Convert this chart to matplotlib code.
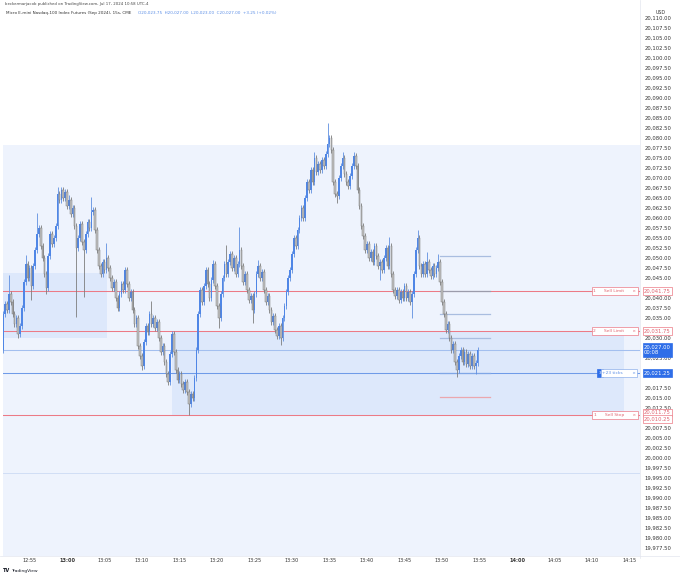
import matplotlib
matplotlib.use("Agg")
import matplotlib.pyplot as plt
import matplotlib.transforms as mtransforms
import numpy as np

# ---------------- data (15-second candles, index 0 = 12:55:00) ----------------
first_index = -14
first_open = 20027.0
closes = [
    20036, 20038.5, 20037, 20041, 20039, 20036, 20033.5, 20035, 20031, 20033,      # -14..-5
    20037.5, 20044, 20048.5, 20045, 20047.5, 20043, 20048, 20052, 20056, 20057.5,  # -4..5
    20053, 20050, 20046, 20042.5, 20050.5, 20056, 20053.5, 20055, 20058, 20066,    # 6..15
    20064.5, 20067, 20065, 20066.5, 20063, 20064.5, 20061, 20062.5, 20058, 20052.5,  # 16..25
    20055, 20058.5, 20054, 20052, 20056, 20059, 20057.5, 20061.5, 20062, 20057,    # 26..35
    20052, 20048, 20046, 20049, 20047, 20050, 20047.5, 20045, 20042.5, 20044,      # 36..45
    20040, 20037.5, 20041, 20043.5, 20042, 20047, 20043.5, 20040, 20041.5, 20037,  # 46..55
    20033.5, 20035, 20028, 20025.5, 20023, 20029, 20033, 20031.5, 20036, 20033.5,  # 56..65
    20035, 20032.5, 20034, 20030, 20026.5, 20028, 20024, 20021, 20019, 20026,      # 66..75
    20031, 20026.5, 20022, 20019.5, 20021, 20018.5, 20017, 20019, 20016.5, 20013.5,  # 76..85
    20016, 20015, 20020, 20027, 20036, 20042, 20039, 20043, 20047, 20043.5,        # 86..95
    20040, 20044.5, 20048.5, 20043, 20038, 20035, 20041, 20045, 20048.5, 20046,    # 96..105
    20049, 20051, 20047.5, 20050, 20046, 20048.5, 20052, 20048, 20044, 20046,      # 106..115
    20042, 20039.5, 20040.5, 20037, 20041, 20046, 20048, 20045, 20046.5, 20042,    # 116..125
    20039, 20040.5, 20037, 20034, 20035.5, 20032, 20030.5, 20033, 20030, 20035,    # 126..135
    20038, 20041.5, 20045, 20047, 20051, 20055, 20053, 20057, 20060, 20062.5,      # 136..145
    20060, 20065, 20069, 20067, 20072, 20069, 20075, 20071.5, 20073.5, 20072,      # 146..155
    20074.5, 20073, 20076, 20078.5, 20080, 20077, 20069, 20066, 20065.5, 20070,    # 156..165
    20073, 20075, 20071, 20069, 20068, 20070.5, 20073, 20075.5, 20073, 20067,      # 166..175
    20063, 20058, 20055.5, 20052, 20053.5, 20050, 20051.5, 20049, 20053, 20050.5,  # 176..185
    20048, 20049, 20047, 20050, 20052.5, 20048, 20053, 20046, 20042, 20040.5,      # 186..195
    20042, 20039.5, 20041.5, 20040, 20043, 20040, 20041.5, 20039, 20041, 20046,    # 196..205
    20052, 20055, 20048, 20046, 20048.5, 20046, 20049, 20047, 20045.5, 20048,      # 206..215
    20046, 20047.5, 20049, 20044, 20039, 20036, 20032, 20033.5, 20030, 20027,      # 216..225
    20028.5, 20024, 20022, 20025.5, 20027, 20024, 20026.5, 20023.5, 20026, 20023,  # 226..235
    20025.5, 20023, 20023.75, 20027,                                               # 236..239
]
wick_high = {-11: 20045.75, -2: 20050.75, 4: 20061.25, 15: 20067.75, 21: 20065.75,
             33: 20065.25, 41: 20053.75, 65: 20039.25, 98: 20049.5, 105: 20053.25,
             112: 20057.75, 122: 20049.5, 152: 20076.5, 159: 20083.75, 167: 20076.5,
             173: 20076.5, 192: 20055.25, 207: 20057.0, 212: 20051.5, 218: 20051.0}
wick_low = {-6: 20030.0, 1: 20039.5, 9: 20041.0, 25: 20035.25, 29: 20040.25,
            60: 20022.0, 85: 20010.75, 101: 20032.5, 119: 20033.75, 134: 20028.25,
            164: 20063.75, 187: 20044.5, 204: 20035.0, 228: 20020.25, 238: 20021.0}
wick_default = 0.75

time_labels = ["12:55", "13:00", "13:05", "13:10", "13:15", "13:20", "13:25", "13:30",
               "13:35", "13:40", "13:45", "13:50", "13:55", "14:00", "14:05", "14:10", "14:15"]
bold_labels = ["13:00", "14:00"]
candles_per_label = 20

zone_top = 20078.25                  # light shaded zone top
box1 = (-14.2, 41.3, 20030.0, 20046.25)   # x0, x1, y0, y1
box2 = (76.0, 317.0, 20010.75, 20031.5)

order_prices = [20041.75, 20031.75, 20021.25, 20010.75]
order_qty = ["1", "2", "3", "1"]
order_names = ["Sell Limit", "Sell Limit", "+23 ticks", "Sell Stop"]
last_price = 20027.0
last_price_text = "20,027.00\n00:08"
stop_axis_texts = ["20,011.75", "20,010.25"]
faint_line_price = 19996.25
short_lines_x = (218.9, 245.6)
short_lines = [(20050.6, "#a9bde0"), (20041.8, "#9c9cab"), (20036.0, "#a9bde0"),
               (20030.0, "#a9bde0"), (20021.25, "#7fa6e6"), (20015.3, "#eba7ae")]

# ---------------- figure ----------------
W, H = 680, 575
fig = plt.figure(figsize=(W / 100, H / 100), dpi=100)
fig.patch.set_facecolor("white")
ax = fig.add_axes([3 / W, 1 - 556 / H, 637 / W, 548 / H])
ax.set_facecolor("white")
xmin, xmax = (3 - 29.5) / 1.875, (640 - 29.5) / 1.875
ymin, ymax = 19975.5, 20112.5
ax.set_xlim(xmin, xmax)
ax.set_ylim(ymin, ymax)

# shaded zones
ax.fill_between([xmin, xmax], ymin, zone_top, color="#eef3fd", zorder=0, lw=0)
ax.fill_between([box1[0], box1[1]], box1[2], box1[3], color="#dde8fb", zorder=0.5, lw=0)
ax.fill_between([box2[0], box2[1]], box2[2], box2[3], color="#dde8fb", zorder=0.5, lw=0)

# horizontal lines
red = "#ec7a86"
blue = "#6f9be8"
for p, q in zip(order_prices, order_qty):
    col = blue if q == "3" else red
    ax.axhline(p, color=col, lw=0.75, zorder=1)
ax.axhline(last_price, color="#a3bfef", lw=0.75, zorder=1)
ax.axhline(faint_line_price, color="#ccdaf4", lw=0.6, zorder=1)
for p, c in short_lines:
    ax.plot(short_lines_x, [p, p], color=c, lw=0.9, zorder=1.5)

# candles
n = len(closes)
idx = np.arange(first_index, first_index + n)
opens = np.array([first_open] + closes[:-1], dtype=float)
cl = np.array(closes, dtype=float)
hi = np.maximum(opens, cl) + wick_default
lo = np.minimum(opens, cl) - wick_default
for k, v in wick_high.items():
    hi[k - first_index] = v
for k, v in wick_low.items():
    lo[k - first_index] = v
up = cl >= opens
up_c, dn_face, dn_edge = "#4f86e6", "#c2c2c2", "#7d7d7d"
ax.vlines(idx[up], lo[up], hi[up], color="#5f8fe0", lw=0.6, zorder=3)
ax.vlines(idx[~up], lo[~up], hi[~up], color=dn_edge, lw=0.6, zorder=3)
hgt = np.where(np.abs(cl - opens) < 0.25, 0.25, cl - opens)
ax.bar(idx[up], hgt[up], bottom=opens[up], width=0.85, color=up_c, lw=0, zorder=4)
ax.bar(idx[~up], hgt[~up], bottom=opens[~up], width=0.85, color=dn_face,
       edgecolor=dn_edge, lw=0.35, zorder=4)

# axes styling
for s in ax.spines.values():
    s.set_visible(False)
ax.yaxis.tick_right()
yt = np.arange(19977.5, 20110.01, 2.5)
box_prices = order_prices + [last_price]
ax.set_yticks(yt)
labels = []
for v in yt:
    near = min(abs(v - b) for b in box_prices)
    labels.append("" if near < 1.6 else f"{v:,.2f}")
ax.set_yticklabels(labels)
ax.tick_params(axis="y", length=0, pad=3.5, labelsize=3.8, labelcolor="#333333")
xt = [i * candles_per_label for i in range(len(time_labels))]
ax.set_xticks(xt)
ax.set_xticklabels(time_labels)
ax.tick_params(axis="x", length=0, pad=1.2, labelsize=3.6, labelcolor="#333333")
for t in ax.get_xticklabels():
    if t.get_text() in bold_labels:
        t.set_fontweight("bold")

# separators for price / time scale
fig.add_artist(plt.Line2D([640 / W, 640 / W], [0.03, 1], color="#e3e6ee", lw=0.5))
fig.add_artist(plt.Line2D([0, 1], [1 - 556 / H] * 2, color="#e3e6ee", lw=0.5))

# price-scale labels
tr = mtransforms.blended_transform_factory(ax.transAxes, ax.transData)
xa = 1 + 4 / 637
def axis_box(y, text, fc, ec, tc):
    ax.text(xa, y, text, transform=tr, fontsize=3.8, color=tc, ha="left", va="center",
            clip_on=False, zorder=10,
            bbox=dict(boxstyle="square,pad=0.25", fc=fc, ec=ec, lw=0.5))
axis_box(order_prices[0], f"{order_prices[0]:,.2f}", "white", red, "#e06470")
axis_box(order_prices[1], f"{order_prices[1]:,.2f}", "white", red, "#e06470")
axis_box(last_price, last_price_text, "#2f6ee8", "#2f6ee8", "white")
axis_box(order_prices[2], f"{order_prices[2]:,.2f}", "#2f6ee8", "#2f6ee8", "white")
axis_box(order_prices[3] + 0.65, stop_axis_texts[0], "white", red, "#e06470")
axis_box(order_prices[3] - 0.95, stop_axis_texts[1], "white", red, "#e06470")
fig.text(656 / W, 1 - 13 / H, "USD", fontsize=3.4, color="#333333", ha="left", va="center")

# order labels on the chart
def xd(px):
    return (px - 29.5) / 1.875
for p, q, name in zip(order_prices, order_qty, order_names):
    if q == "3":
        ax.text(xd(600), p, q, fontsize=3.2, color="white", ha="center", va="center", zorder=11,
                bbox=dict(boxstyle="square,pad=0.45", fc="#2f6ee8", ec="#2f6ee8", lw=0.5))
        ax.text(xd(619), p, f"{name}       \u00d7", fontsize=3.2, color="#5b8ee6", ha="center",
                va="center", zorder=11,
                bbox=dict(boxstyle="square,pad=0.35", fc="white", ec="#8fb0ea", lw=0.5))
    else:
        ax.text(xd(615), p, f"{q}      {name}      \u00d7", fontsize=3.2, color="#e06470",
                ha="center", va="center", zorder=11,
                bbox=dict(boxstyle="square,pad=0.35", fc="white", ec=red, lw=0.5))

# header
fig.text(5 / W, 1 - 4 / H, "beckermarjacob published on TradingView.com, Jul 17, 2024 10:58 UTC-4",
         fontsize=2.8, color="#444444", ha="left", va="center")
fig.text(6 / W, 1 - 13 / H, "Micro E-mini Nasdaq-100 Index Futures (Sep 2024), 15s, CME",
         fontsize=3.0, color="#333333", ha="left", va="center")
fig.text(138 / W, 1 - 13 / H, "O20,023.75  H20,027.00  L20,023.00  C20,027.00  +3.25 (+0.02%)",
         fontsize=3.0, color="#5b8ee6", ha="left", va="center")

# footer logo
fig.text(3 / W, 1 - 571 / H, "TV", fontsize=3.6, color="#131722", fontweight="bold",
         ha="left", va="center")
fig.text(11 / W, 1 - 571 / H, "TradingView", fontsize=3.2, color="#131722", ha="left", va="center")

fig.savefig("out.png", dpi=100, facecolor="white")
